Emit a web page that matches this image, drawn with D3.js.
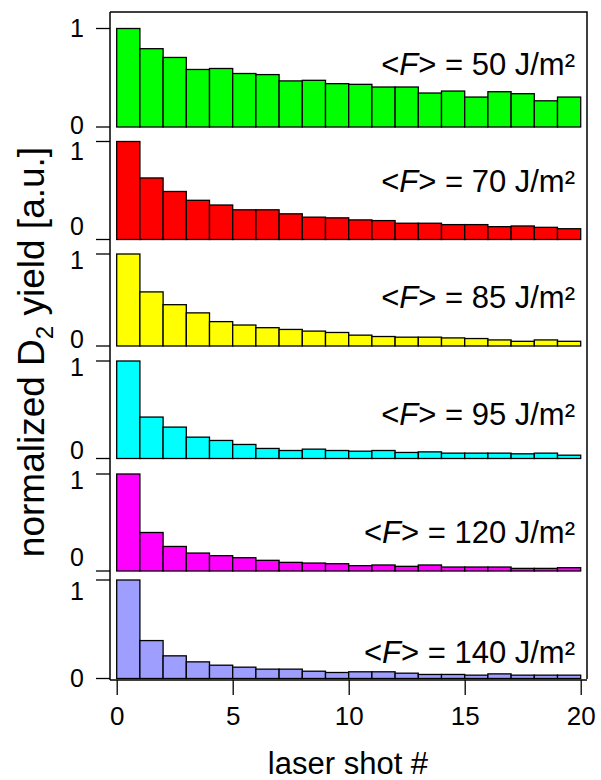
<!DOCTYPE html>
<html>
<head>
<meta charset="utf-8">
<script src="https://cdn.jsdelivr.net/npm/d3@7"></script>
<style>
  body { margin: 0; background: #fff; }
  svg { display: block; font-family: "Liberation Sans", Arial, sans-serif; }
</style>
</head>
<body>
<div id="chart"></div>
<script>
// Fluence labels (J/m²) of the six panels
const fluences = [50, 70, 85, 95, 120, 140];
const colors = ['#00ff00', '#ff0000', '#ffff00', '#00ffff', '#ff00ff', '#9e9eff'];
const shots = d3.range(20); // bar i spans shot i .. i+1
const xTicks = [0, 5, 10, 15, 20];

// normalized yields, one array per fluence
const yield50 = [1.0, 0.795, 0.706, 0.584, 0.594, 0.543, 0.532, 0.468, 0.474, 0.44,
  0.433, 0.406, 0.406, 0.345, 0.365, 0.304, 0.358, 0.338, 0.266, 0.304];
const yield70 = [1.0, 0.628, 0.49, 0.40, 0.352, 0.303, 0.303, 0.262, 0.228, 0.221,
  0.2, 0.193, 0.166, 0.166, 0.152, 0.152, 0.131, 0.138, 0.124, 0.11];
const yield85 = [1.0, 0.588, 0.449, 0.36, 0.265, 0.228, 0.199, 0.18, 0.162, 0.147,
  0.118, 0.103, 0.096, 0.096, 0.088, 0.081, 0.066, 0.051, 0.066, 0.051];
const yield95 = [1.0, 0.425, 0.322, 0.219, 0.185, 0.144, 0.103, 0.082, 0.096, 0.082,
  0.075, 0.082, 0.062, 0.068, 0.055, 0.055, 0.055, 0.048, 0.055, 0.034];
const yield120 = [1.0, 0.397, 0.253, 0.185, 0.158, 0.137, 0.11, 0.089, 0.082, 0.075,
  0.055, 0.062, 0.048, 0.062, 0.041, 0.041, 0.041, 0.027, 0.027, 0.034];
const yield140 = [1.0, 0.385, 0.23, 0.169, 0.135, 0.115, 0.095, 0.095, 0.074, 0.061,
  0.068, 0.068, 0.054, 0.041, 0.041, 0.034, 0.047, 0.034, 0.034, 0.034];
const series = [yield50, yield70, yield85, yield95, yield120, yield140];

// layout of the stacked panels: pixel rows of value 0 and value 1
const panelRows = [
  { y0: 127, y1: 28.5, lab1: 0, lab0: -2, text: 0.525 },
  { y0: 239.5, y1: 141.5, lab1: 10, lab0: -13, text: 0.485 },
  { y0: 346, y1: 254, lab1: 6, lab0: -7, text: 0.41 },
  { y0: 458.5, y1: 361, lab1: 6, lab0: -8, text: 0.34 },
  { y0: 571, y1: 474, lab1: 6, lab0: -14, text: 0.29 },
  { y0: 678.5, y1: 580, lab1: 11, lab0: 0, text: 0.16 }
];

const width = 601, height = 780;
const mLeft = 110, mRight = 587, mTop = 12, mBottom = 680;

const svg = d3.select('#chart').append('svg')
  .attr('width', width)
  .attr('height', height);

const x = d3.scaleLinear().domain([0, 20]).range([116.7, 580.7]);

// Panels
series.forEach((vals, p) => {
  const row = panelRows[p];
  const y = d3.scaleLinear().domain([0, 1]).range([row.y0, row.y1]);
  const g = svg.append('g');

  g.selectAll('rect')
    .data(shots)
    .join('rect')
    .attr('x', i => x(i))
    .attr('width', i => x(i + 1) - x(i))
    .attr('y', i => y(vals[i]))
    .attr('height', i => y(0) - y(vals[i]))
    .attr('fill', colors[p])
    .attr('stroke', '#000')
    .attr('stroke-width', 1.3);

  // y ticks 0 and 1
  [0, 1].forEach(v => {
    g.append('line')
      .attr('x1', mLeft - 14).attr('x2', mLeft)
      .attr('y1', y(v)).attr('y2', y(v))
      .attr('stroke', '#000').attr('stroke-width', 1.3);
    g.append('text')
      .attr('x', 84)
      .attr('y', y(v) + (v ? row.lab1 : row.lab0))
      .attr('dy', '0.35em')
      .attr('text-anchor', 'end')
      .attr('font-size', 25)
      .text(v);
  });

  // fluence label
  const t = g.append('text')
    .attr('x', 575)
    .attr('y', y(row.text))
    .attr('text-anchor', 'end')
    .attr('font-size', 31);
  t.append('tspan').text('<');
  t.append('tspan').attr('font-style', 'italic').text('F');
  t.append('tspan').text(`> = ${fluences[p]} J/m²`);
});

// frame and axes
const frame = svg.append('g').attr('stroke', '#000').attr('stroke-width', 1.5).attr('fill', 'none');
frame.append('path').attr('d', `M${mLeft},${mTop}H${mRight}V${mBottom - 1}`);
frame.append('line').attr('x1', mLeft).attr('x2', mLeft).attr('y1', mTop).attr('y2', mBottom);
frame.append('line').attr('x1', mLeft).attr('x2', mRight).attr('y1', mBottom).attr('y2', mBottom);

const xAxis = svg.append('g')
  .attr('transform', `translate(0,${mBottom})`)
  .call(d3.axisBottom(x).tickValues(xTicks).tickSize(15).tickSizeOuter(0).tickPadding(12));
xAxis.select('.domain').remove();
xAxis.selectAll('.tick line').attr('stroke-width', 1.3);
xAxis.selectAll('.tick text')
  .attr('font-size', 26)
  .attr('font-family', '"Liberation Sans", Arial, sans-serif')
  .attr('fill', '#000');

// axis titles
svg.append('text')
  .attr('x', 348)
  .attr('y', 774)
  .attr('text-anchor', 'middle')
  .attr('font-size', 31)
  .text('laser shot #');

const yt = svg.append('text')
  .attr('transform', 'translate(44,352) rotate(-90)')
  .attr('text-anchor', 'middle')
  .attr('font-size', 37);
yt.append('tspan').text('normalized D');
yt.append('tspan').attr('font-size', 24).attr('dy', 9).text('2');
yt.append('tspan').attr('dy', -9).text(' yield [a.u.]');
</script>
</body>
</html>
